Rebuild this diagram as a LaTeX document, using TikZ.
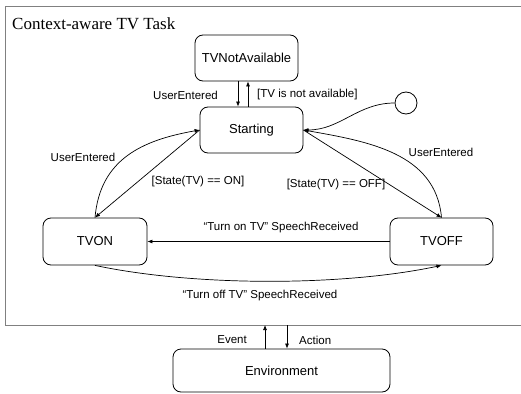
\documentclass[tikz,border=0pt]{standalone}
\usepackage{fontspec}
\setmainfont{Liberation Sans}
\newfontfamily\titlefont{Liberation Serif}
\usetikzlibrary{arrows.meta}

\begin{document}
\begin{tikzpicture}[x=1pt,y=-1pt,
    state/.style={draw, rounded corners=8pt, line width=0.8pt, inner sep=0pt,
        minimum width=103pt, minimum height=46pt,
        font=\fontsize{13}{15}\selectfont},
    lbl/.style={inner sep=0pt, font=\fontsize{11.5}{13}\selectfont},
    arr/.style={line width=0.7pt, -{Latex[length=5pt,width=4pt]}}]
        \useasboundingbox (0,0) rectangle (521,393);
        \draw [gray, line width=0.8pt] (521,6) -- (5,6) -- (5,325) -- (521,325);
        \node [anchor=west, inner sep=0pt, font=\titlefont\fontsize{17}{20}\selectfont]
            (title) at (12,24) {Context-aware TV Task};

        \node [state] (TVNA) at (246.5,58) {TVNotAvailable};
        \node [state] (Starting) at (251.5,130) {Starting};
        \node [state, minimum width=104pt, minimum height=47pt] (TVON) at (95,241.5) {TVON};
        \node [state, minimum height=47pt] (TVOFF) at (441.5,241.5) {TVOFF};
        \node [state, minimum width=217pt, minimum height=43pt] (Env) at (281.5,370.5) {Environment};
        \node [draw, circle, line width=0.8pt, minimum size=22pt, inner sep=0pt] (init) at (406,103) {};

        \coordinate (evt) at (265,325);
        \coordinate (act) at (287,325);

        \draw [arr] ([xshift=-8.5pt]TVNA.south) -- ([xshift=-13.5pt]Starting.north);
        \draw [arr] ([xshift=-3.5pt]Starting.north) -- ([xshift=1.5pt]TVNA.south);
        \draw [arr] (init.west) to[out=180, in=0] (Starting.east);
        \draw [arr] (TVON.north) to[out=85, in=190, looseness=1.1] (Starting.west);
        \draw [arr] (Starting.west) -- (TVON.north);
        \draw [arr] (TVOFF.north) to[out=95, in=-10, looseness=1.02] (Starting.east);
        \draw [arr] (Starting.east) -- (TVOFF.north);
        \draw [arr] (TVOFF.west) -- (TVON.east);
        \draw [arr] (TVON.south) to[out=-12, in=-168, looseness=0.75] (TVOFF.south);
        \draw [arr] (evt |- Env.north) -- (evt);
        \draw [arr] (act) -- (act |- Env.north);

        \node [lbl, anchor=east] (lUser1) at (218,95) {UserEntered};
        \node [lbl, anchor=west] (lNotAv) at (257,95) {[TV is not available]};
        \node [lbl] (lUser2) at (83,157) {UserEntered};
        \node [lbl] (lUser3) at (441,152) {UserEntered};
        \node [lbl] (lOn) at (198,182) {[State(TV) == ON]};
        \node [lbl] (lOff) at (336,185) {[State(TV) == OFF]};
        \node [lbl] (lTurnOn) at (281,228) {“Turn on TV” SpeechReceived};
        \node [lbl] (lTurnOff) at (260,296) {“Turn off TV” SpeechReceived};
        \node [lbl, anchor=east] (lEvent) at (247,340) {Event};
        \node [lbl, anchor=west] (lAction) at (299,340) {Action};
    \end{tikzpicture}
\end{document}
